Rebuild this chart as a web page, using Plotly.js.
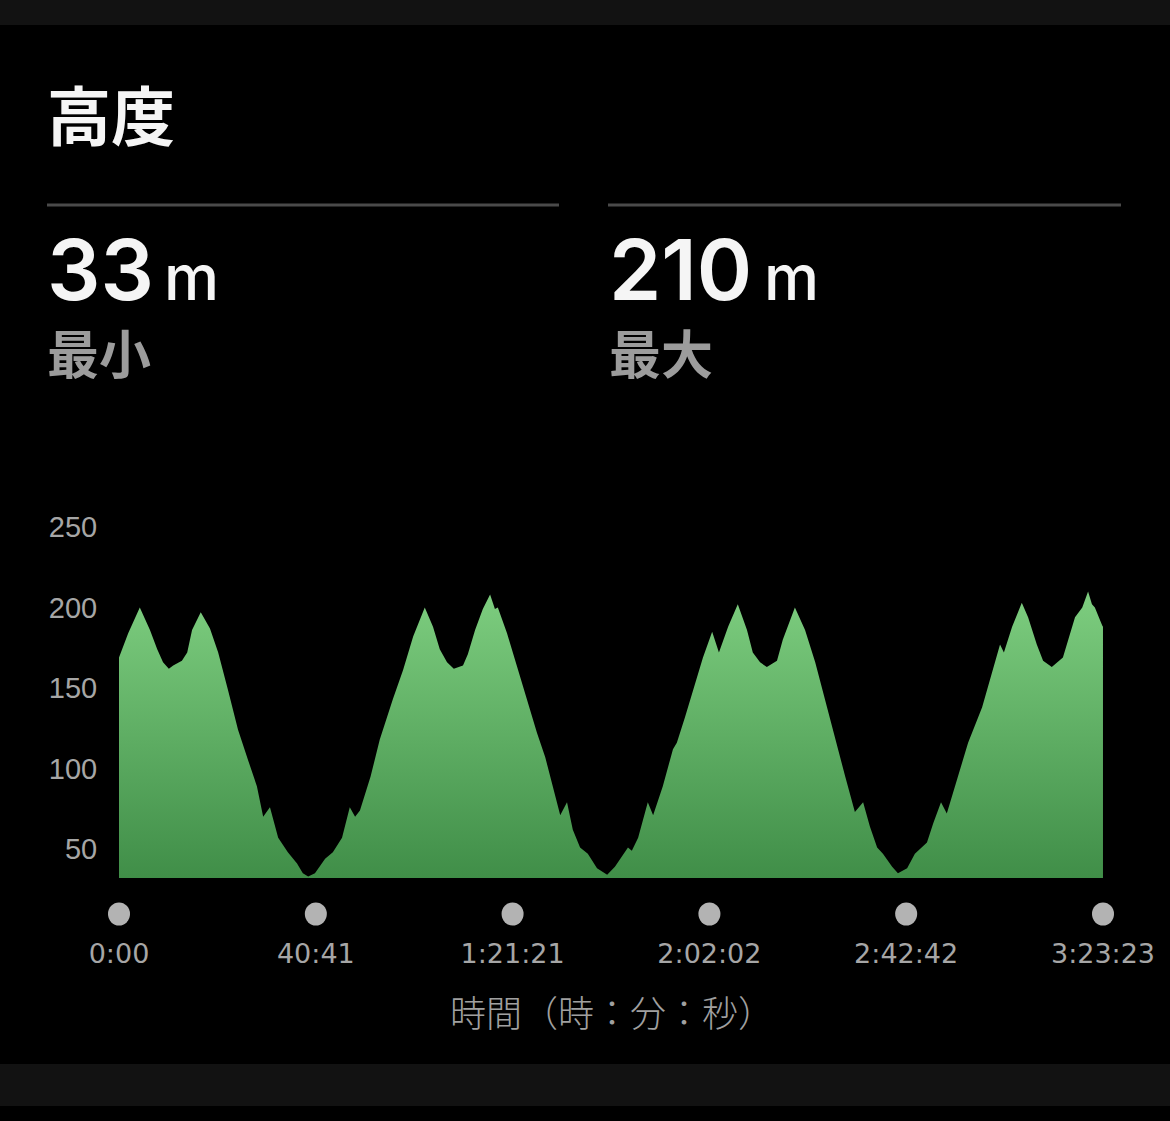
<!DOCTYPE html>
<html>
<head>
<meta charset="utf-8">
<script src="https://cdn.plot.ly/plotly-3.0.1.min.js"></script>
<style>
html,body{margin:0;padding:0;background:#000;}
#chart{width:1170px;height:1121px;}
</style>
</head>
<body>
<div id="chart"></div>
<script>
// ---- data (time in minutes, altitude in metres) ----
const timeMin = [0, 1.9, 4.3, 6.4, 7.9, 9.1, 10.3, 11.2, 13.0, 14.1, 15.1, 16.9, 18.8, 20.5, 22.5, 24.6, 26.7, 28.5, 29.8, 31.2, 32.9, 34.9, 36.8, 38.0, 39.1, 40.5, 42.6, 44.2, 46.1, 47.7, 48.8, 49.8, 52.0, 53.9, 56.6, 58.7, 60.8, 63.2, 64.9, 66.3, 67.8, 69.2, 71.1, 72.1, 73.6, 75.2, 76.7, 77.7, 78.3, 80.2, 82.3, 84.3, 86.4, 88.1, 89.7, 91.2, 92.6, 93.8, 95.3, 96.9, 98.8, 100.9, 102.5, 104.0, 105.2, 106.0, 107.3, 108.3, 109.3, 110.4, 112.4, 114.5, 115.3, 117.0, 119.1, 120.7, 122.6, 124.0, 125.9, 127.9, 129.8, 131.0, 132.5, 133.9, 136.0, 137.2, 139.7, 141.8, 143.9, 145.9, 148.0, 150.1, 152.1, 153.8, 155.2, 156.7, 157.9, 159.8, 161.0, 162.9, 164.5, 166.0, 167.0, 168.3, 169.9, 171.1, 172.8, 175.5, 178.4, 180.4, 182.1, 182.9, 184.6, 186.6, 187.9, 189.7, 191.0, 192.8, 193.9, 195.1, 196.2, 197.6, 199.1, 200.3, 201.1, 201.7, 203.2, 203.38];
const altitude = [169, 184, 200, 186, 174, 166, 162, 164, 167, 172, 186, 197, 187, 172, 149, 124, 105, 89, 70, 76, 57, 48, 41, 35, 33, 35, 44, 48, 57, 76, 70, 74, 95, 118, 143, 161, 182, 200, 188, 174, 166, 162, 164, 171, 186, 199, 208, 199, 200, 184, 163, 143, 122, 107, 89, 71, 79, 62, 51, 47, 38, 34, 39, 46, 51, 49, 57, 68, 79, 71, 89, 112, 116, 132, 153, 169, 185, 172, 188, 202, 186, 172, 166, 163, 167, 180, 200, 186, 166, 143, 118, 95, 73, 79, 64, 51, 47, 39, 35, 38, 47, 51, 54, 66, 79, 72, 89, 116, 138, 159, 177, 172, 188, 203, 194, 177, 167, 163, 166, 169, 180, 194, 200, 210, 202, 200, 189, 188];

const tickSeconds = [0, 2441, 4881, 7322, 9762, 12203];
const tickLabels = ["0:00", "40:41", "1:21:21", "2:02:02", "2:42:42", "3:23:23"];
const yTicks = [50, 100, 150, 200, 250];

const headerTitle = "高度";
const minValue = "33";
const maxValue = "210";
const unit = "m";
const minLabel = "最小";
const maxLabel = "最大";
const xTitle = "時間（時：分：秒）";

// ---- layout geometry ----
const W = 1170, H = 1121;
const L = 119, R = 67, T = 527, B = 243;
const plotW = W - L - R, plotH = H - T - B;
const yMin = 32, yMax = 250;
const px2x = p => (p - L) / plotW;
const px2y = p => (H - B - p) / plotH;

const tickMin = tickSeconds.map(s => s / 60);
const xMax = tickMin[tickMin.length - 1];

const area = {
  x: timeMin, y: altitude, type: 'scatter', mode: 'lines',
  line: {width: 0, color: 'rgba(0,0,0,0)'},
  fill: 'tozeroy',
  fillgradient: {type: 'vertical', start: yMin, stop: 205,
    colorscale: [[0, 'rgb(64,142,72)'], [1, 'rgb(124,204,126)']]},
  hoverinfo: 'skip'
};

const ann = (px, py, text, size, color, family, weight, xanchor) => ({
  xref: 'paper', yref: 'paper', x: px2x(px), y: px2y(py), text: text,
  showarrow: false, xanchor: xanchor || 'left', yanchor: 'middle',
  font: {size: size, color: color, family: family, weight: weight || 400}
});

const numFont = 'Inter, Roboto, sans-serif';
const cjk = '"Noto Sans CJK JP", sans-serif';

// tick dots below the time axis (paper x derived from the linear time axis)
const dotShapes = tickMin.map(t => ({
  type: 'circle', xref: 'paper', yref: 'paper', xsizemode: 'pixel', ysizemode: 'pixel',
  xanchor: t / xMax, yanchor: px2y(914), x0: -11, x1: 11, y0: -11.5, y1: 11.5,
  fillcolor: '#b3b3b3', line: {width: 0}
}));

const layout = {
  width: W, height: H,
  margin: {l: L, r: R, t: T, b: B, pad: 0},
  paper_bgcolor: '#000', plot_bgcolor: '#000',
  showlegend: false,
  xaxis: {range: [0, xMax], tickvals: tickMin, ticktext: tickLabels,
    showgrid: false, zeroline: false, showline: false,
    ticks: 'outside', ticklen: 52, tickcolor: 'rgba(0,0,0,0)',
    tickfont: {size: 27, color: '#a6a6a6', family: '"DejaVu Sans", sans-serif', weight: 400}},
  yaxis: {range: [yMin, yMax], tickvals: yTicks, showgrid: false, zeroline: false, showline: false,
    ticks: 'outside', ticklen: 15, tickcolor: 'rgba(0,0,0,0)',
    tickfont: {size: 29, color: '#a6a6a6', family: '"Liberation Sans", Arial, sans-serif'}},
  shapes: [
    {type: 'rect', xref: 'paper', yref: 'paper', x0: px2x(0), x1: px2x(W), y0: px2y(0), y1: px2y(25), fillcolor: '#121212', line: {width: 0}, layer: 'below'},
    {type: 'rect', xref: 'paper', yref: 'paper', x0: px2x(0), x1: px2x(W), y0: px2y(1064), y1: px2y(1106), fillcolor: '#121212', line: {width: 0}, layer: 'below'},
    {type: 'line', xref: 'paper', yref: 'paper', x0: px2x(47), x1: px2x(559), y0: px2y(205), y1: px2y(205), line: {color: '#4a4a4a', width: 3}},
    {type: 'line', xref: 'paper', yref: 'paper', x0: px2x(608), x1: px2x(1121), y0: px2y(205), y1: px2y(205), line: {color: '#4a4a4a', width: 3}}
  ].concat(dotShapes),
  annotations: [
    ann(45, 112, headerTitle, 64, '#f5f5f5', cjk, 700),
    ann(45, 269, minValue, 84, '#f5f5f5', numFont, 600),
    ann(162, 277, unit, 62, '#f5f5f5', numFont, 500),
    ann(607, 269, maxValue, 84, '#f5f5f5', numFont, 600),
    ann(762, 277, unit, 62, '#f5f5f5', numFont, 500),
    ann(45, 351, minLabel, 52, '#9c9c9c', cjk, 700),
    ann(607, 351, maxLabel, 52, '#9c9c9c', cjk, 700),
    ann(612, 1011, xTitle, 36, '#a0a0a0', cjk, 300, 'center')
  ]
};

Plotly.newPlot('chart', [area], layout, {staticPlot: true, displayModeBar: false});
</script>
</body>
</html>
